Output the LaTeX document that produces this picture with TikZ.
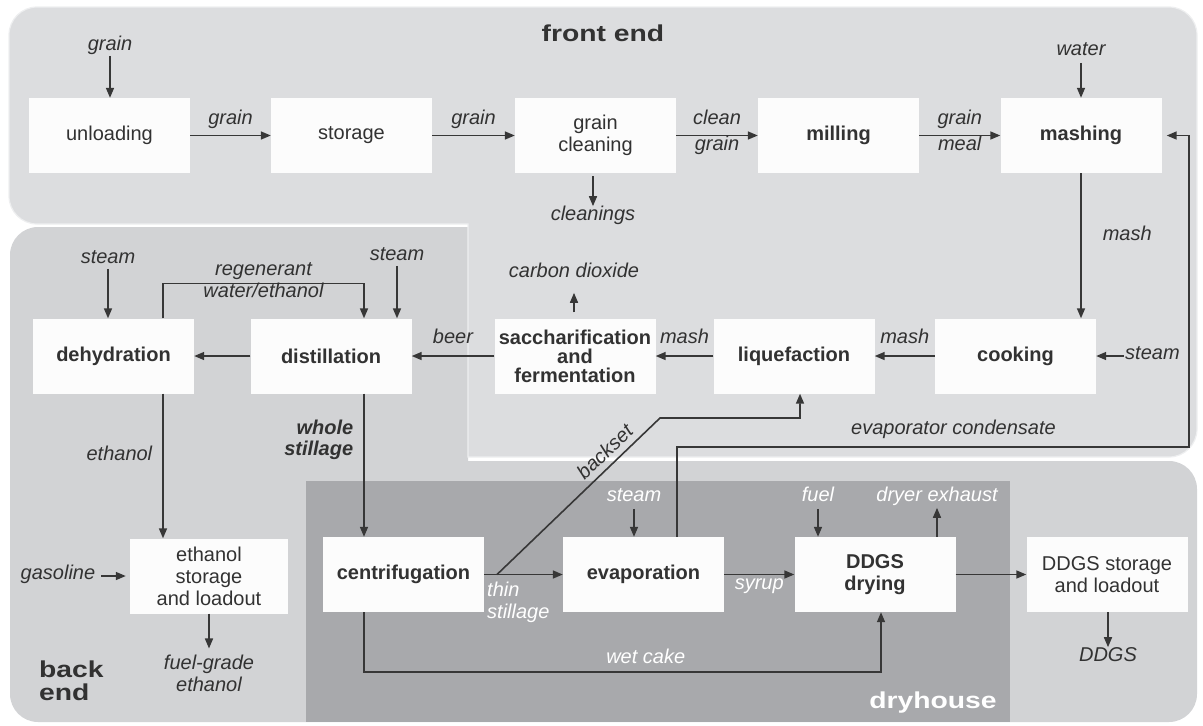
\documentclass[tikz,border=0pt]{standalone}
\usepackage{fontspec}
\usepackage{graphicx}
\setmainfont{Liberation Sans}
\usetikzlibrary{arrows.meta}
\definecolor{fecol}{RGB}{220,221,223}
\definecolor{becol}{RGB}{210,211,213}
\definecolor{dhcol}{RGB}{168,169,172}
\definecolor{boxcol}{RGB}{252,252,252}
\definecolor{txt}{RGB}{50,50,50}
\definecolor{arrcol}{RGB}{55,55,55}
\definecolor{edgecol}{RGB}{238,239,240}
\newcommand{\widetxt}[1]{\scalebox{1.23}[1]{#1}}
\tikzset{
  box/.style={fill=boxcol, minimum width=161pt, minimum height=75pt, inner sep=1pt,
    align=center, text=txt, font=\fontsize{20}{22}\selectfont},
  bbox/.style={box, font=\fontsize{20}{22}\selectfont\bfseries},
  lbl/.style={font=\fontsize{20}{24}\selectfont\itshape, text=txt, inner sep=1pt,
    text height=1.5ex, text depth=.25ex},
  wlbl/.style={lbl, text=white},
  mlbl/.style={font=\fontsize{20}{22}\selectfont\itshape, text=txt, inner sep=1pt},
  title/.style={font=\fontsize{23}{23}\selectfont\bfseries, text=txt, inner sep=1pt},
  arr/.style={draw=arrcol, line width=1.6pt, -{Triangle[length=10pt,width=8pt]}},
}
\begin{document}
\begin{tikzpicture}[x=1pt,y=-1pt]
\useasboundingbox (0,0) rectangle (1203,726);
% regions
\path[fill=becol] (300,227) -- (468,227) -- (468,461) -- (800,461) [rounded corners=28pt]
  -- (1197,461) -- (1197,722) -- (10,722) -- (10,227) -- (150,227) [sharp corners] -- cycle;
\path[fill=fecol, draw=edgecol, line width=1.2pt] (300,224) [rounded corners=28pt] -- (9,224) -- (9,7)
  -- (1197,7) -- (1197,457) -- (1000,457) [sharp corners] -- (468,457) -- (468,224) -- cycle;
\path[fill=dhcol] (306,481) rectangle (1010,722);
% titles
\node[title] at (603,33) {\widetxt{front end}};
\node[title, anchor=west, align=left] at (38,681) {\widetxt{back}\\\widetxt{end}};
\node[title, text=white] at (933,703) {\widetxt{dryhouse}};
% boxes
\node[box] (unl) at (109.5,135.5) {unloading};
\node[box] (sto) at (351.5,135.5) {storage};
\node[box] (gcl) at (595.5,135.5) {grain\\cleaning};
\node[bbox] (mil) at (838.5,135.5) {milling};
\node[bbox] (msh) at (1081,135.5) {mashing};
\node[bbox] (deh) at (113.5,356) {dehydration};
\node[bbox] (dis) at (331,356) {distillation};
\node[bbox, font=\fontsize{20}{19}\selectfont\bfseries] (sac) at (575,356) {saccharification\\and\\fermentation};
\node[bbox] (liq) at (794,356) {liquefaction};
\node[bbox] (coo) at (1015.5,356) {cooking};
\node[box, minimum width=158pt] (ets) at (209,576) {ethanol\\storage\\and loadout};
\node[bbox] (cen) at (403.5,574.5) {centrifugation};
\node[bbox] (eva) at (643.5,574.5) {evaporation};
\node[bbox] (dry) at (875,574.5) {DDGS\\drying};
\node[box] (dst) at (1107,574.5) {DDGS storage\\and loadout};
% outside inputs / outputs
\node[lbl] (in1) at (110,47) {grain};
\node[lbl] (in2) at (1081,52) {water};
\node[lbl] (out1) at (593,217) {cleanings};
\node[lbl] (st1) at (108,260) {steam};
\node[lbl] (st2) at (397,257) {steam};
\node[lbl] (co2) at (574,274) {carbon dioxide};
\node[lbl, anchor=west] (st0) at (1124,356) {steam};
\node[lbl] (gas) at (58,576) {gasoline};
\node[mlbl, align=center] (fge) at (209,673) {fuel-grade\\ethanol};
\node[lbl] (ddgs) at (1108,658) {DDGS};
\node[wlbl] (st3) at (634,498) {steam};
\node[wlbl] (fuel) at (818,498) {fuel};
\node[wlbl] (dex) at (937,498) {dryer exhaust};
\node[mlbl, text=white, anchor=north west, align=left] (thin) at (486,581) {thin\\stillage};
\coordinate (bs) at (497,574.5);
\coordinate (bk) at (660,418);
\coordinate (ec) at (1189,447);
\coordinate (wc1) at (364,672);
\coordinate (wc2) at (881,672);
% front end connectors
\draw[arr, shorten <=3pt] (in1) -- (in1 |- unl.north);
\draw[arr, shorten <=5pt] (in2) -- (in2 |- msh.north);
\draw[arr] (unl) -- node[lbl, above=8pt]{grain} (sto);
\draw[arr] (sto) -- node[lbl, above=8pt]{grain} (gcl);
\draw[arr] (gcl) -- node[lbl, above=8pt]{clean} node[lbl, below=5pt]{grain} (mil);
\draw[arr] (mil) -- node[lbl, above=8pt]{grain} node[lbl, below=5pt]{meal} (msh);
\draw[arr, shorten <=3pt, shorten >=5pt] (gcl.south -| out1) -- (out1);
\draw[arr] (msh.south) -- node[lbl, pos=0.44, right=20pt]{mash} (msh.south |- coo.north);
\draw[arr] (st0) -- (coo);
\draw[arr] (coo) -- node[lbl, above=9.5pt]{mash} (liq);
\draw[arr] (liq) -- node[lbl, above=9.5pt]{mash} (sac);
\draw[arr] (sac) -- node[lbl, above=9.5pt]{beer} (dis);
\draw[arr, shorten <=6pt, shorten >=13pt] (sac.north -| co2) -- (co2);
% back end connectors
\draw[arr] (dis) -- (deh);
\draw[arr, shorten <=3pt] (st1) -- (st1 |- deh.north);
\draw[arr, shorten <=3pt] (st2) -- (st2 |- dis.north);
\draw[arr] ([xshift=49.5pt]deh.north) -- ++(0,-35) -| node[lbl, pos=0.25, above=5pt]{regenerant}
  node[lbl, pos=0.25, below=4pt]{water/ethanol} ([xshift=33pt]dis.north);
\draw[arr] ([xshift=49.5pt]deh.south) -- node[lbl, pos=0.44, left=9pt]{ethanol}
  ([xshift=49.5pt]deh.south |- ets.north);
\draw[arr] ([xshift=33pt]dis.south) -- node[mlbl, pos=0.32, left=9pt, align=right,
  font=\fontsize{20}{21}\selectfont\bfseries\itshape]{whole\\stillage} ([xshift=33pt]dis.south |- cen.north);
\draw[arr, shorten <=5pt, shorten >=4pt] (gas) -- (ets);
\draw[arr, shorten >=5pt] (ets) -- (fge);
% dryhouse connectors
\draw[arr] (cen) -- (eva);
\draw[arr] (bs) -- node[lbl, sloped, pos=0.72, above=4pt]{backset} (bk) -| ([xshift=6pt]liq.south);
\draw[arr, shorten >=5pt] ([xshift=33.5pt]eva.north) |- node[lbl, pos=0.77, above=9pt]{evaporator condensate} (ec) |- (msh.east);
\draw[arr, shorten <=5pt] (st3) -- (st3 |- eva.north);
\draw[arr] (eva) -- node[wlbl, below=5pt]{syrup} (dry);
\draw[arr, shorten <=5pt] (fuel) -- (fuel |- dry.north);
\draw[arr, shorten >=4pt] (dex |- dry.north) -- (dex);
\draw[arr] (cen.south -| wc1) -- (wc1) -- node[wlbl, pos=0.545, above=5pt]{wet cake} (wc2) -- (dry.south -| wc2);
\draw[arr] (dry) -- (dst);
\draw[arr, shorten >=5pt] (dst.south -| ddgs) -- (ddgs);
\end{tikzpicture}
\end{document}
